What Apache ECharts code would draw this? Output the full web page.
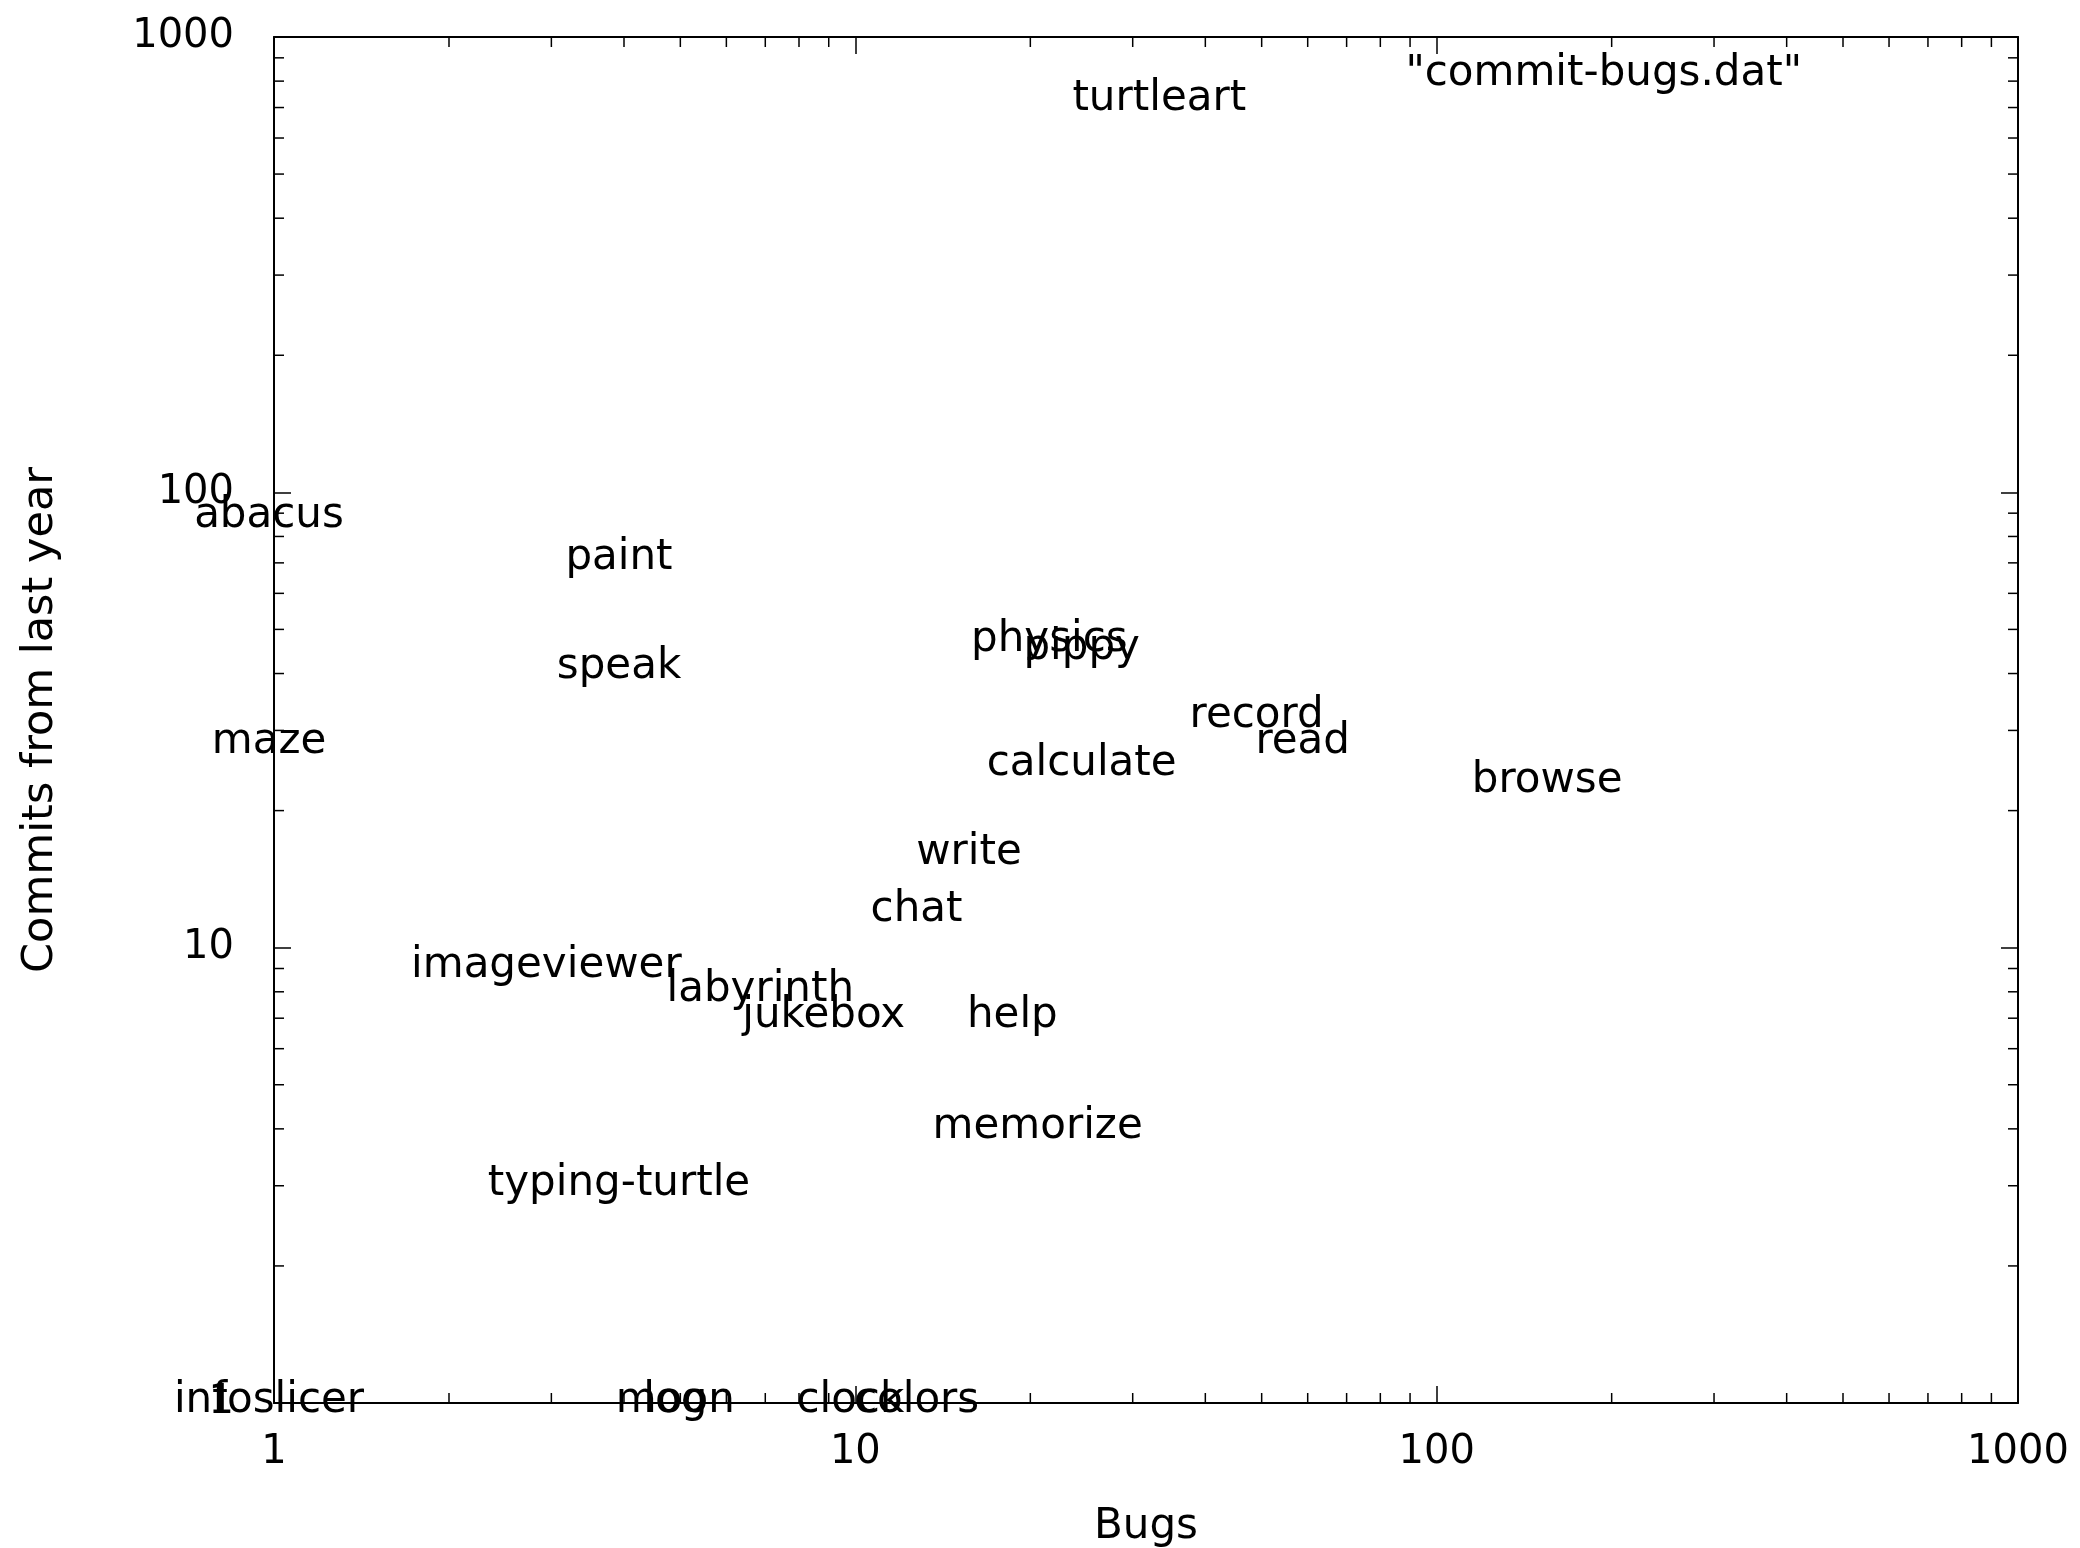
<!DOCTYPE html>
<html>
<head>
<meta charset="utf-8">
<title>Commits vs bugs</title>
<script src="https://cdn.jsdelivr.net/npm/echarts@6/dist/echarts.min.js"></script>
<style>
    html, body { margin: 0; padding: 0; background: #fff; }
    #chart { width: 2080px; height: 1548px; }
</style>
</head>
<body>
<div id="chart"></div>
<script>
    // activity names with their bug count (x) and commits from last year (y)
    const activities = ['turtleart', 'abacus', 'paint', 'speak', 'maze', 'physics', 'pippy', 'record', 'read',
        'calculate', 'browse', 'write', 'chat', 'imageviewer', 'labyrinth', 'jukebox', 'help', 'memorize',
        'typing-turtle', 'infoslicer', 'moon', 'log', 'clock', 'colors'];
    const bugs = [34, 1, 4, 4, 1, 22, 25, 50, 60, 25, 158, 16, 13, 3, 7, 9, 19, 21, 4, 1, 5, 5, 10, 13];
    const commits = [724, 88, 71, 41, 28, 47, 45, 32, 28, 25, 23, 16, 12, 9, 8, 7, 7, 4, 3, 1, 1, 1, 1, 1];
    // log minor ticks (2..9 per decade)
    const minorTicks = [2, 3, 4, 5, 6, 7, 8, 9, 20, 30, 40, 50, 60, 70, 80, 90, 200, 300, 400, 500, 600, 700, 800, 900];
    const seriesName = '"commit-bugs.dat"';

    const font = 'DejaVu Sans';
    const fs = 42;      // labels, key, axis names
    const tickFs = 40;  // tick numbers

    let myChart = echarts.init(document.getElementById('chart'));

    function tickLine(x1, y1, x2, y2) {
        return { type: 'line', shape: { x1: x1, y1: y1, x2: x2, y2: y2 }, style: { stroke: '#000', lineWidth: 1.5 } };
    }

    // minor ticks on bottom/top border
    function minorX(params, api) {
        let cs = params.coordSys;
        let x = api.coord([api.value(0), api.value(1)])[0];
        return {
            type: 'group',
            children: [
                tickLine(x, cs.y + cs.height, x, cs.y + cs.height - 10),
                tickLine(x, cs.y, x, cs.y + 10)
            ]
        };
    }

    // minor ticks on left/right border
    function minorY(params, api) {
        let cs = params.coordSys;
        let y = api.coord([api.value(0), api.value(1)])[1];
        return {
            type: 'group',
            children: [
                tickLine(cs.x, y, cs.x + 10, y),
                tickLine(cs.x + cs.width, y, cs.x + cs.width - 10, y)
            ]
        };
    }

    function plainNumber(v) {
        return String(Math.round(v));
    }

    const axisBase = {
        type: 'log',
        logBase: 10,
        min: 1,
        max: 1000,
        splitLine: { show: false },
        axisLine: { show: true, lineStyle: { color: '#000', width: 2 } },
        axisTick: { show: true, inside: true, length: 17, lineStyle: { color: '#000', width: 1.5 } }
    };

    let option = {
        backgroundColor: '#fff',
        animation: false,
        textStyle: { fontFamily: font },
        grid: { left: 274, right: 62, top: 37, bottom: 145, containLabel: false, outerBoundsMode: 'none' },
        legend: {
            data: [{ name: seriesName, icon: 'none' }],
            right: 278,
            top: 53,
            padding: 0,
            itemWidth: 0,
            itemGap: 0,
            selectedMode: false,
            textStyle: { fontFamily: font, fontSize: fs, color: '#000' }
        },
        xAxis: [
            Object.assign({}, axisBase, {
                position: 'bottom',
                name: 'Bugs',
                nameLocation: 'middle',
                nameGap: 103,
                nameTextStyle: { fontFamily: font, fontSize: fs, color: '#000' },
                axisLabel: { margin: 30, fontFamily: font, fontSize: tickFs, color: '#000', formatter: plainNumber }
            }),
            Object.assign({}, axisBase, {
                position: 'top',
                axisLabel: { show: false }
            })
        ],
        yAxis: [
            Object.assign({}, axisBase, {
                position: 'left',
                name: 'Commits from last year',
                nameLocation: 'middle',
                nameGap: 212,
                nameTextStyle: { fontFamily: font, fontSize: 43, color: '#000' },
                axisLabel: { margin: 40, fontFamily: font, fontSize: tickFs, color: '#000', formatter: plainNumber }
            }),
            Object.assign({}, axisBase, {
                position: 'right',
                axisLabel: { show: false }
            })
        ],
        series: [
            {
                name: seriesName,
                type: 'scatter',
                symbolSize: 1,
                itemStyle: { color: 'transparent', opacity: 1 },
                label: {
                    show: true,
                    position: 'inside',
                    offset: [-5, -2],
                    formatter: '{b}',
                    fontFamily: font,
                    fontSize: fs,
                    color: '#000',
                    opacity: 1
                },
                emphasis: { disabled: true },
                data: activities.map(function (n, i) {
                    return { name: n, value: [bugs[i], commits[i]] };
                })
            },
            {
                type: 'custom',
                renderItem: minorX,
                silent: true,
                data: minorTicks.map(function (v) { return [v, 1]; })
            },
            {
                type: 'custom',
                renderItem: minorY,
                silent: true,
                data: minorTicks.map(function (v) { return [1, v]; })
            }
        ]
    };
    myChart.setOption(option);
</script>
</body>
</html>
